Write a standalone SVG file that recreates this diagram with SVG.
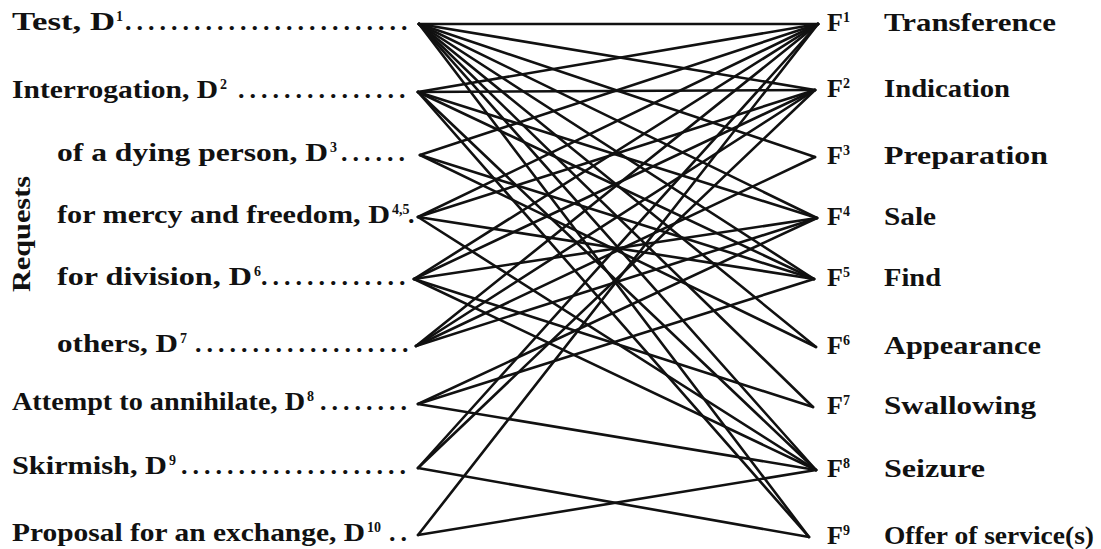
<svg xmlns="http://www.w3.org/2000/svg" width="1101" height="549" viewBox="0 0 1101 549">
<style>
.t{font-family:"Liberation Serif","Times New Roman",serif;font-weight:bold;font-size:26px;fill:#111}
.s{font-family:"Liberation Serif","Times New Roman",serif;font-weight:bold;font-size:14px;fill:#111}
#connectors line{stroke:#111;stroke-width:2.6;stroke-linecap:round}
</style>
<rect width="1101" height="549" fill="#fff"/>
<g id="connectors">
<line x1="419" y1="24" x2="818" y2="24"/>
<line x1="419" y1="24" x2="815" y2="90"/>
<line x1="419" y1="24" x2="815" y2="157"/>
<line x1="419" y1="24" x2="817" y2="218"/>
<line x1="419" y1="24" x2="814" y2="279"/>
<line x1="419" y1="24" x2="816" y2="347"/>
<line x1="419" y1="24" x2="813" y2="407"/>
<line x1="419" y1="24" x2="816" y2="470"/>
<line x1="419" y1="24" x2="809" y2="537"/>
<line x1="418" y1="92" x2="818" y2="24"/>
<line x1="418" y1="92" x2="815" y2="90"/>
<line x1="418" y1="92" x2="817" y2="218"/>
<line x1="418" y1="92" x2="814" y2="279"/>
<line x1="418" y1="92" x2="816" y2="470"/>
<line x1="418" y1="92" x2="809" y2="537"/>
<line x1="420" y1="155" x2="818" y2="24"/>
<line x1="420" y1="155" x2="814" y2="279"/>
<line x1="420" y1="155" x2="816" y2="347"/>
<line x1="418" y1="217" x2="818" y2="24"/>
<line x1="418" y1="217" x2="815" y2="90"/>
<line x1="418" y1="217" x2="814" y2="279"/>
<line x1="418" y1="217" x2="816" y2="470"/>
<line x1="414" y1="279" x2="818" y2="24"/>
<line x1="414" y1="279" x2="815" y2="90"/>
<line x1="414" y1="279" x2="817" y2="218"/>
<line x1="414" y1="279" x2="813" y2="407"/>
<line x1="414" y1="279" x2="816" y2="470"/>
<line x1="416" y1="346" x2="818" y2="24"/>
<line x1="416" y1="346" x2="815" y2="90"/>
<line x1="416" y1="346" x2="815" y2="157"/>
<line x1="416" y1="346" x2="817" y2="218"/>
<line x1="418" y1="404" x2="817" y2="218"/>
<line x1="418" y1="404" x2="814" y2="279"/>
<line x1="418" y1="404" x2="816" y2="470"/>
<line x1="418" y1="468" x2="818" y2="24"/>
<line x1="418" y1="468" x2="815" y2="90"/>
<line x1="418" y1="468" x2="809" y2="537"/>
<line x1="418" y1="535" x2="818" y2="24"/>
<line x1="418" y1="535" x2="816" y2="470"/>
</g>
<g id="requests"><text class="t" transform="translate(30,234) rotate(-90)" text-anchor="middle" textLength="116" lengthAdjust="spacingAndGlyphs">Requests</text></g>
<g id="D1"><text class="t" x="12" y="30" textLength="103" lengthAdjust="spacingAndGlyphs">Test, D</text><text class="s" x="116" y="21">1</text><text class="t" x="125" y="30" textLength="282.5" lengthAdjust="spacing">.........................</text></g>
<g id="D2"><text class="t" x="12" y="98" textLength="206" lengthAdjust="spacingAndGlyphs">Interrogation, D</text><text class="s" x="220" y="89">2</text><text class="t" x="238" y="98" textLength="167.5" lengthAdjust="spacing">...............</text></g>
<g id="D3"><text class="t" x="57" y="161" textLength="271" lengthAdjust="spacingAndGlyphs">of a dying person, D</text><text class="s" x="330" y="152">3</text><text class="t" x="341" y="161" textLength="64" lengthAdjust="spacing">......</text></g>
<g id="D45"><text class="t" x="57" y="223" textLength="333" lengthAdjust="spacingAndGlyphs">for mercy and freedom, D</text><text class="s" x="392" y="214">4,5</text><text class="t" x="408" y="223">.</text></g>
<g id="D6"><text class="t" x="57" y="285" textLength="195" lengthAdjust="spacingAndGlyphs">for division, D</text><text class="s" x="254" y="276">6</text><text class="t" x="261" y="285" textLength="144.5" lengthAdjust="spacing">.............</text></g>
<g id="D7"><text class="t" x="57" y="352" textLength="121" lengthAdjust="spacingAndGlyphs">others, D</text><text class="s" x="180" y="343">7</text><text class="t" x="195" y="352" textLength="213.5" lengthAdjust="spacing">...................</text></g>
<g id="D8"><text class="t" x="12" y="410" textLength="293" lengthAdjust="spacingAndGlyphs">Attempt to annihilate, D</text><text class="s" x="307" y="401">8</text><text class="t" x="320" y="410" textLength="87" lengthAdjust="spacing">........</text></g>
<g id="D9"><text class="t" x="12" y="474" textLength="155" lengthAdjust="spacingAndGlyphs">Skirmish, D</text><text class="s" x="169" y="465">9</text><text class="t" x="181" y="474" textLength="225" lengthAdjust="spacing">....................</text></g>
<g id="D10"><text class="t" x="12" y="541" textLength="353" lengthAdjust="spacingAndGlyphs">Proposal for an exchange, D</text><text class="s" x="367" y="532">10</text><text class="t" x="389" y="541" textLength="18" lengthAdjust="spacing">..</text></g>
<g id="F1"><text class="t" x="827" y="31">F</text><text class="s" x="843" y="22">1</text><text class="t" x="884" y="31" textLength="172" lengthAdjust="spacingAndGlyphs">Transference</text></g>
<g id="F2"><text class="t" x="827" y="97">F</text><text class="s" x="843" y="88">2</text><text class="t" x="884" y="97" textLength="126" lengthAdjust="spacingAndGlyphs">Indication</text></g>
<g id="F3"><text class="t" x="827" y="164">F</text><text class="s" x="843" y="155">3</text><text class="t" x="884" y="164" textLength="164" lengthAdjust="spacingAndGlyphs">Preparation</text></g>
<g id="F4"><text class="t" x="827" y="225">F</text><text class="s" x="843" y="216">4</text><text class="t" x="884" y="225" textLength="52" lengthAdjust="spacingAndGlyphs">Sale</text></g>
<g id="F5"><text class="t" x="827" y="286">F</text><text class="s" x="843" y="277">5</text><text class="t" x="884" y="286" textLength="57" lengthAdjust="spacingAndGlyphs">Find</text></g>
<g id="F6"><text class="t" x="827" y="354">F</text><text class="s" x="843" y="345">6</text><text class="t" x="884" y="354" textLength="157" lengthAdjust="spacingAndGlyphs">Appearance</text></g>
<g id="F7"><text class="t" x="827" y="414">F</text><text class="s" x="843" y="405">7</text><text class="t" x="884" y="414" textLength="152" lengthAdjust="spacingAndGlyphs">Swallowing</text></g>
<g id="F8"><text class="t" x="827" y="477">F</text><text class="s" x="843" y="468">8</text><text class="t" x="884" y="477" textLength="101" lengthAdjust="spacingAndGlyphs">Seizure</text></g>
<g id="F9"><text class="t" x="827" y="544">F</text><text class="s" x="843" y="535">9</text><text class="t" x="884" y="544" textLength="210" lengthAdjust="spacingAndGlyphs">Offer of service(s)</text></g>
</svg>
